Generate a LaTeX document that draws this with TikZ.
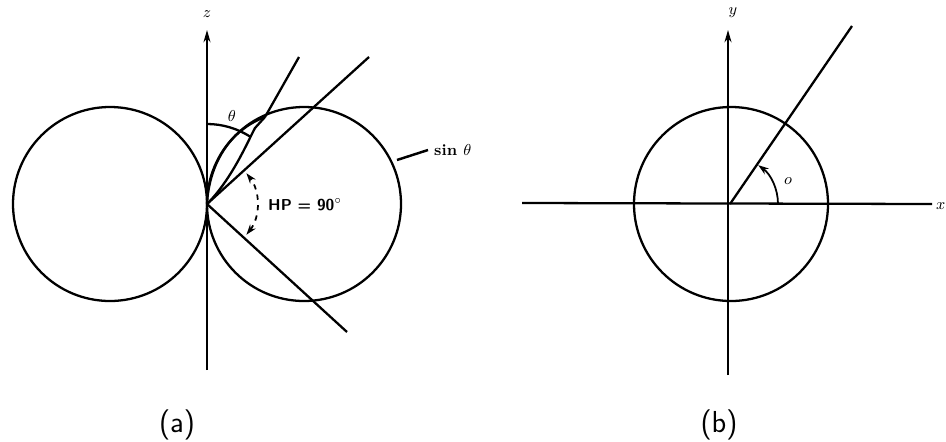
\documentclass[tikz,border=0pt]{standalone}
\usepackage{tikz}
\usetikzlibrary{arrows.meta}
\tikzset{
  curve/.style={line width=1.3pt},
  axisline/.style={line width=1pt, -{Stealth[length=7pt,width=4pt]}},
  smalllbl/.style={font=\small\bfseries},
  caplbl/.style={font=\LARGE\sffamily},
}
\begin{document}
\begin{tikzpicture}[x=0.02cm, y=0.02cm]
\useasboundingbox (0,0) rectangle (946,441);
% (a) sin theta pattern
\coordinate (Oa) at (207,237);
\coordinate (cl) at (110,237);
\coordinate (cr) at (304,237);
\coordinate (zbot) at (207,71);
\coordinate (ztop) at (207,411);
\draw[axisline] (zbot) -- (ztop);
\node[smalllbl] (zlbl) at (207,427) {$z$};
\draw[curve] (cl) circle[radius=97];
\draw[curve] (cr) circle[radius=97];
% narrow beam and its edge line
\coordinate (tipo) at (265,324);
\coordinate (tipi) at (255,313);
\coordinate (thend) at (299,384);
\draw[curve] (Oa) .. controls (209,275) and (228,310) .. (tipo);
\draw[curve] (Oa) .. controls (232,262) and (248,300) .. (tipi) -- (tipo);
\draw[curve] (tipo) -- (thend);
\draw[curve] (Oa) ++(90:80) arc[start angle=90, end angle=57, radius=80];
\node[smalllbl] (thlbl) at (232,325) {$\theta$};
% half-power lines
\coordinate (hpup) at (369,384);
\coordinate (hpdn) at (347,109);
\draw[curve] (Oa) -- (hpup);
\draw[curve] (Oa) -- (hpdn);
\draw[line width=1pt, dashed, {Stealth[length=6pt,width=4pt]}-{Stealth[length=6pt,width=4pt]}]
  (Oa) ++(-38:50) arc[start angle=-38, end angle=38, radius=50];
\node[smalllbl, anchor=west] (hplbl) at (262,236) {\sffamily HP = 90$^\circ$};
\coordinate (sinpt) at (397,281);
\node[smalllbl, anchor=west] (sinlbl) at (428,291) {sin $\theta$};
\draw[line width=1.4pt] (sinpt) -- (sinlbl.west);
\node[caplbl] (capa) at (177,16) {(a)};
% (b) unit circle
\coordinate (Ob) at (730,237);
\coordinate (cb) at (731,237);
\coordinate (xl) at (522,238);
\coordinate (xr) at (932,237);
\coordinate (ybot) at (728,66);
\coordinate (ytop) at (728,411);
\coordinate (rend) at (852,415);
\draw[curve] (xl) -- (xr);
\node[smalllbl, anchor=west, inner sep=1pt] (xlbl) at (934,235) {$x$};
\draw[axisline] (ybot) -- (ytop);
\node[smalllbl] (ylbl) at (733,428) {$y$};
\draw[curve] (cb) circle[radius=97];
\draw[curve] (Ob) -- (rend);
\draw[line width=1pt, -{Stealth[length=6pt,width=4pt]}]
  (Ob) ++(0:48) arc[start angle=0, end angle=54, radius=48];
\node[smalllbl] (phlbl) at (788,260) {$o$};
\node[caplbl] (capb) at (719,16) {(b)};
\end{tikzpicture}
\end{document}
